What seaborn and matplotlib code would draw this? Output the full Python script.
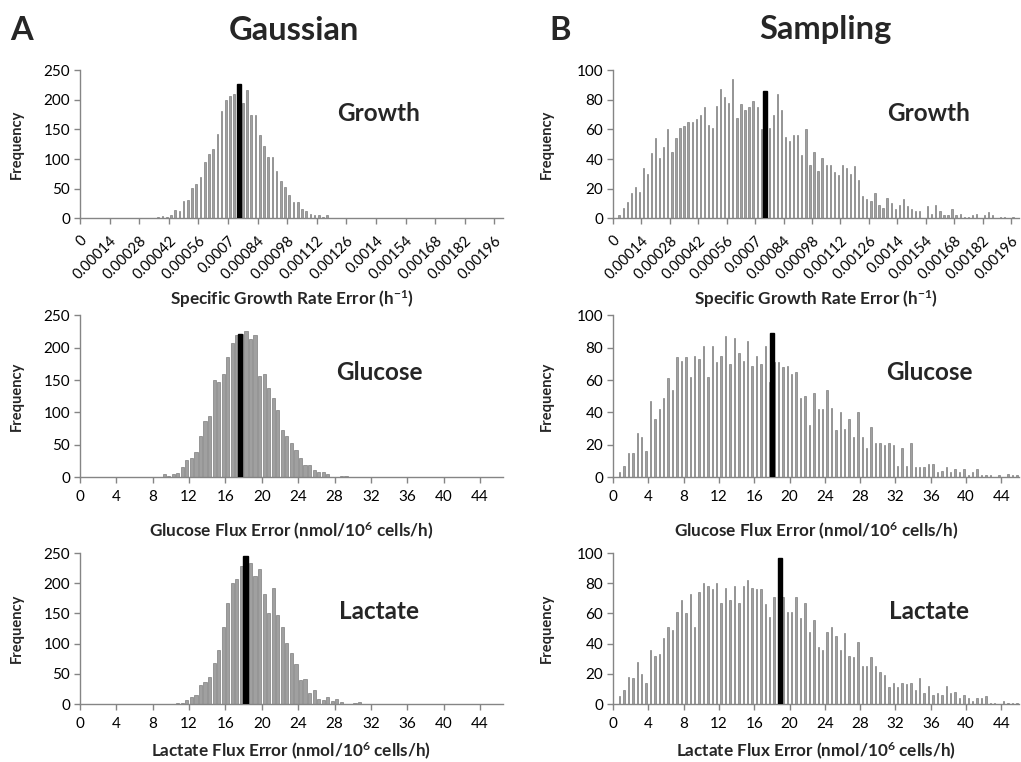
import numpy as np
import pandas as pd
import seaborn as sns
import matplotlib.pyplot as plt

# histogram bin widths
growth_bin = 0.00002
flux_bin = 0.5

# --- counts per bin (bin 0 starts at zero) ---
gauss_growth = [0] * 18 + [
    2, 4, 2, 6, 14, 13, 29, 31, 51, 58, 70, 95, 109, 117, 143, 181, 199, 207,
    209, 215, 195, 216, 175, 174, 141, 122, 104, 103, 79, 63, 52, 39, 28, 27,
    15, 13, 8, 5, 5, 2, 6, 1]
samp_growth = [0] + [
    2, 7, 11, 17, 21, 18, 34, 30, 44, 54, 41, 48, 60, 45, 54, 61, 62, 65, 65,
    67, 70, 75, 63, 61, 76, 87, 82, 78, 94, 68, 77, 73, 75, 79, 75, 60, 66, 61,
    70, 84, 73, 55, 52, 56, 56, 43, 60, 36, 45, 32, 41, 36, 36, 31, 29, 36, 34,
    30, 35, 26, 15, 13, 12, 17, 9, 7, 14, 10, 6, 9, 13, 8, 6, 5, 5, 0, 8, 3,
    9, 5, 2, 2, 6, 2, 3, 1, 1, 2, 3, 0, 2, 4, 2, 0, 1, 1, 0, 1]
gauss_glucose = [0] * 18 + [
    5, 1, 4, 6, 16, 27, 30, 38, 64, 86, 94, 150, 147, 159, 185, 207, 220, 222,
    226, 214, 219, 156, 159, 137, 123, 103, 73, 63, 52, 42, 30, 19, 19, 11, 8,
    7, 4, 0, 0, 1, 1]
samp_glucose = [0] + [
    3, 7, 15, 15, 27, 25, 16, 47, 36, 42, 49, 61, 54, 74, 72, 74, 62, 75, 73,
    81, 62, 81, 71, 75, 87, 70, 86, 77, 72, 84, 69, 75, 70, 81, 59, 71, 71, 68,
    69, 64, 65, 49, 50, 32, 52, 42, 42, 54, 43, 29, 40, 30, 36, 25, 40, 25, 18,
    31, 21, 21, 20, 21, 20, 7, 18, 7, 21, 6, 6, 6, 8, 8, 3, 4, 6, 3, 5, 3, 5,
    1, 3, 5, 1, 1, 1, 0, 1, 0, 2, 1, 1]
gauss_lactate = [0] * 21 + [
    1, 1, 6, 12, 15, 31, 37, 45, 68, 90, 127, 167, 200, 207, 228, 240, 234, 212,
    223, 182, 151, 192, 148, 127, 101, 84, 66, 40, 41, 19, 23, 8, 6, 11, 5, 8,
    4, 0, 0, 2, 3]
samp_lactate = [0] + [
    5, 9, 18, 17, 28, 20, 14, 36, 32, 33, 44, 51, 49, 61, 69, 60, 73, 51, 74,
    80, 78, 76, 80, 67, 77, 69, 78, 67, 78, 82, 77, 76, 76, 66, 58, 71, 70, 71,
    61, 61, 71, 57, 67, 48, 56, 38, 36, 48, 51, 45, 36, 47, 32, 31, 41, 25, 25,
    31, 25, 21, 19, 11, 14, 11, 14, 13, 14, 9, 17, 7, 12, 6, 7, 6, 12, 7, 8, 4,
    6, 4, 2, 4, 4, 5, 1, 1, 0, 2, 1, 1, 1]

# black bar: reference value and its height
ref_x = {"gauss_growth": 0.00075, "samp_growth": 0.00075,
         "gauss_glucose": 17.6, "samp_glucose": 18.0,
         "gauss_lactate": 18.2, "samp_lactate": 18.9}
ref_h = {"gauss_growth": 227, "samp_growth": 86,
         "gauss_glucose": 222, "samp_glucose": 89,
         "gauss_lactate": 246, "samp_lactate": 97}

growth_ticklabels = ["0", "0.00014", "0.00028", "0.00042", "0.00056", "0.0007",
                     "0.00084", "0.00098", "0.00112", "0.00126", "0.0014",
                     "0.00154", "0.00168", "0.00182", "0.00196"]
flux_ticks = [0, 4, 8, 12, 16, 20, 24, 28, 32, 36, 40, 44]

row_names = ["Growth", "Glucose", "Lactate"]
xlabels = ["Specific Growth Rate Error (h$^{-1}$)",
           "Glucose Flux Error (nmol/10$^{6}$ cells/h)",
           "Lactate Flux Error (nmol/10$^{6}$ cells/h)"]

sns.set_style("ticks")
plt.rcParams["font.family"] = ["Lato", "DejaVu Sans"]
plt.rcParams["mathtext.fontset"] = "custom"
plt.rcParams["mathtext.rm"] = "Lato"
plt.rcParams["mathtext.bf"] = "Lato:bold"
plt.rcParams["mathtext.default"] = "bf"

GREY = "#858585"
BAR = "#a0a0a0"
BAR_EDGE = "#6a6a6a"

fig = plt.figure(figsize=(10.21, 7.62), dpi=100)

rows = [(0.7135, 0.1945), (0.374, 0.212), (0.0761, 0.198)]
cols = [(0.0784, 0.414), (0.6004, 0.3977)]


def draw_panel(ax, counts, bw, key, shrink, ymax, ystep, name, name_pos,
               xlabel, xlabel_y, ylabel_x, growth, xmax):
    n_bins = len(counts)
    centers = (np.arange(n_bins) + 0.5) * bw
    df = pd.DataFrame({"x": centers, "n": np.asarray(counts, dtype=float)})
    sns.histplot(data=df, x="x", weights="n", bins=n_bins,
                 binrange=(0, n_bins * bw), shrink=shrink,
                 color=BAR, edgecolor=BAR_EDGE, linewidth=0.4, alpha=1, ax=ax)
    ax.bar(ref_x[key], ref_h[key], width=bw * 0.95, color="black",
           edgecolor="black", linewidth=1.0, zorder=3)

    ax.set_xlim(0, xmax)
    ax.set_ylim(0, ymax)
    ax.set_yticks(np.arange(0, ymax + 1, ystep))
    if growth:
        ax.set_xticks([float(s) for s in growth_ticklabels])
        ax.set_xticklabels(growth_ticklabels, rotation=45, ha="right",
                           va="top", rotation_mode="anchor", fontsize=10.5)
        ax.tick_params(axis="x", pad=7)
    else:
        ax.set_xticks(flux_ticks)
        ax.set_xticklabels([str(t) for t in flux_ticks], fontsize=11)
        ax.tick_params(axis="x", pad=5)
    ax.tick_params(axis="y", labelsize=11, pad=3)
    ax.tick_params(colors=GREY, labelcolor="black", length=4, width=1)

    sns.despine(ax=ax)
    for s in ["left", "bottom"]:
        ax.spines[s].set_color(GREY)
        ax.spines[s].set_linewidth(1)

    ax.set_ylabel("Frequency", fontsize=10.5, fontweight="bold")
    ax.yaxis.set_label_coords(ylabel_x, 0.5)
    ax.set_xlabel(xlabel, fontsize=12.3, fontweight="bold")
    ax.xaxis.set_label_coords(0.5, xlabel_y)

    ax.text(name_pos[0], name_pos[1], name, transform=ax.transAxes,
            ha="center", va="center", fontsize=17.5, fontweight="bold")


panels = [
    [("gauss_growth", gauss_growth), ("samp_growth", samp_growth)],
    [("gauss_glucose", gauss_glucose), ("samp_glucose", samp_glucose)],
    [("gauss_lactate", gauss_lactate), ("samp_lactate", samp_lactate)],
]
name_y = [0.71, 0.645, 0.61]
xlabel_y = [-0.475, -0.27, -0.245]

for r in range(3):
    for c in range(2):
        key, counts = panels[r][c]
        ax = fig.add_axes([cols[c][0], rows[r][0], cols[c][1], rows[r][1]])
        growth = r == 0
        bw = growth_bin if growth else flux_bin
        if c == 0:
            ymax, ystep, shrink = 250, 50, (0.4 if growth else 0.7)
            name_x, ylabel_x = 0.707, -0.132
            xmax = 0.002 if growth else 46.5
        else:
            ymax, ystep, shrink = 100, 20, 0.32
            name_x, ylabel_x = 0.778, -0.145
            xmax = 0.002 if growth else 46
        draw_panel(ax, counts, bw, key, shrink, ymax, ystep, row_names[r],
                   (name_x, name_y[r]), xlabels[r], xlabel_y[r], ylabel_x,
                   growth, xmax)

for x, s in [(22, "A"), (294, "Gaussian"), (560, "B"), (825, "Sampling")]:
    fig.text(x / 1021, 1 - 30 / 762, s, ha="center", va="center",
             fontsize=23.5, fontweight="bold")

fig.savefig("out.png", dpi=100)
